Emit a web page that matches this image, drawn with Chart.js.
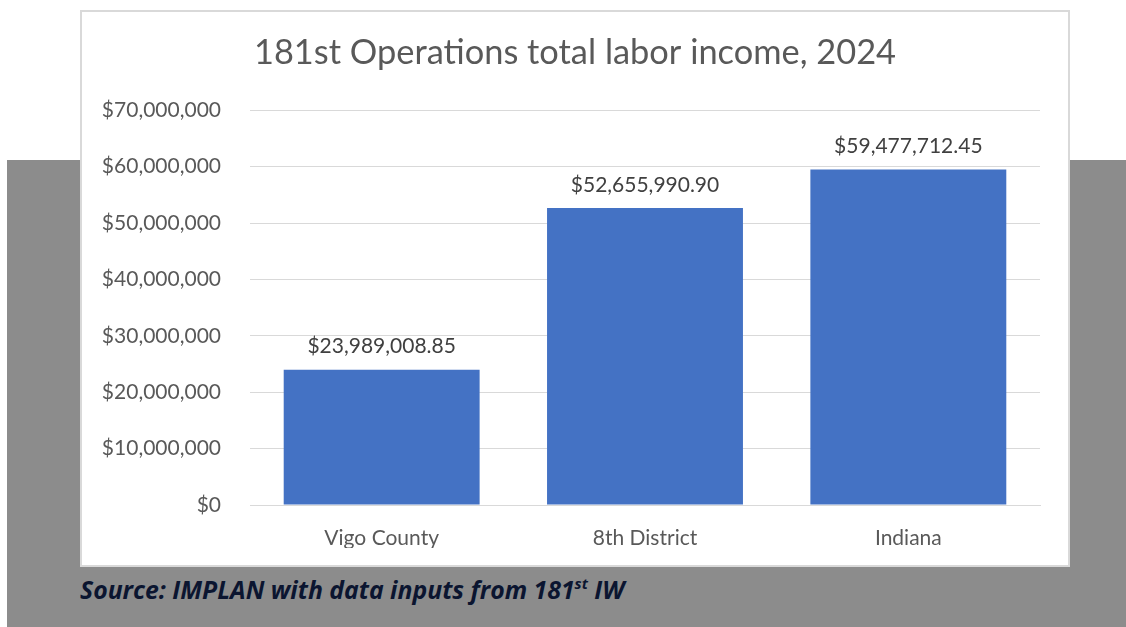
<!DOCTYPE html>
<html>
<head>
<meta charset="utf-8">
<script src="https://cdn.jsdelivr.net/npm/chart.js@4.4.1/dist/chart.umd.min.js"></script>
<style>
    body { margin: 0; width: 1126px; height: 627px; background: #ffffff; position: relative; overflow: hidden; font-family: Lato, "Open Sans", sans-serif; }
    .band { position: absolute; left: 7px; top: 160px; width: 1119px; height: 467px; background: #8c8c8c; }
    .frame { position: absolute; left: 80px; top: 10px; width: 990px; height: 557px; box-sizing: border-box; border: 2px solid #d9d9d9; background: #ffffff; }
    .frame .inner { position: relative; width: 986px; height: 553px; }
    .source { position: absolute; left: 80px; top: 572px; font: italic 700 24.8px "Open Sans", sans-serif; color: #0b1530; white-space: nowrap; }
    .source sup { font-size: 15px; vertical-align: 10px; line-height: 0; }
</style>
</head>
<body>
<div class="band"></div>
<div class="frame"><div class="inner"><canvas id="laborChart"></canvas></div></div>
<div class="source">Source: IMPLAN with data inputs from 181<sup>st</sup> IW</div>

<script>
    // Chart data
    const regions = ['Vigo County', '8th District', 'Indiana'];
    const laborIncome = [23989008.85, 52655990.90, 59477712.45];
    const yTicks = [0, 10000000, 20000000, 30000000, 40000000, 50000000, 60000000, 70000000];

    const textGrey = '#595959';

    function dollars(v, decimals) {
        return '$' + v.toLocaleString('en-US', { minimumFractionDigits: decimals, maximumFractionDigits: decimals });
    }

    // Value labels above bars
    const barLabels = {
        id: 'barLabels',
        afterDatasetsDraw(chart) {
            const ctx = chart.ctx;
            const meta = chart.getDatasetMeta(0);
            ctx.save();
            ctx.font = '21px Lato, sans-serif';
            ctx.fillStyle = '#404040';
            ctx.textAlign = 'center';
            ctx.textBaseline = 'middle';
            meta.data.forEach((bar, i) => {
                ctx.fillText(dollars(laborIncome[i], 2), bar.x, bar.y - 23);
            });
            ctx.restore();
        }
    };

    new Chart(document.getElementById('laborChart').getContext('2d'), {
        type: 'bar',
        data: {
            labels: regions,
            datasets: [{
                data: laborIncome,
                backgroundColor: '#4472c4',
                categoryPercentage: 1,
                barPercentage: 0.744
            }]
        },
        options: {
            responsive: true,
            maintainAspectRatio: false,
            animation: false,
            layout: { padding: { left: 0, right: 0, top: 0, bottom: 17 } },
            plugins: {
                legend: { display: false },
                tooltip: { enabled: false },
                title: {
                    display: true,
                    text: '181st Operations total labor income, 2024',
                    color: textGrey,
                    font: { family: 'Lato, sans-serif', size: 34.4, weight: 'normal' },
                    padding: { top: 20, bottom: 37 }
                }
            },
            scales: {
                x: {
                    afterFit(scale) { scale.height = 43; },
                    grid: { display: false },
                    border: { color: '#d9d9d9', width: 1 },
                    ticks: { color: textGrey, font: { family: 'Lato, sans-serif', size: 21 }, padding: 13 }
                },
                y: {
                    min: 0,
                    max: 70000000,
                    afterFit(scale) { scale.width = 168; },
                    afterBuildTicks(scale) { scale.ticks = yTicks.map(v => ({ value: v })); },
                    grid: { color: '#d9d9d9', lineWidth: 1, drawTicks: false },
                    border: { display: false },
                    ticks: {
                        color: textGrey,
                        font: { family: 'Lato, sans-serif', size: 21 },
                        padding: 29,
                        callback: v => dollars(v, 0)
                    }
                },
                // empty right-hand spacer so the title stays centred on the frame
                spacer: {
                    type: 'linear',
                    position: 'right',
                    afterFit(scale) { scale.width = 28; },
                    grid: { display: false },
                    border: { display: false },
                    ticks: { display: false }
                }
            }
        },
        plugins: [barLabels]
    });
</script>
</body>
</html>
